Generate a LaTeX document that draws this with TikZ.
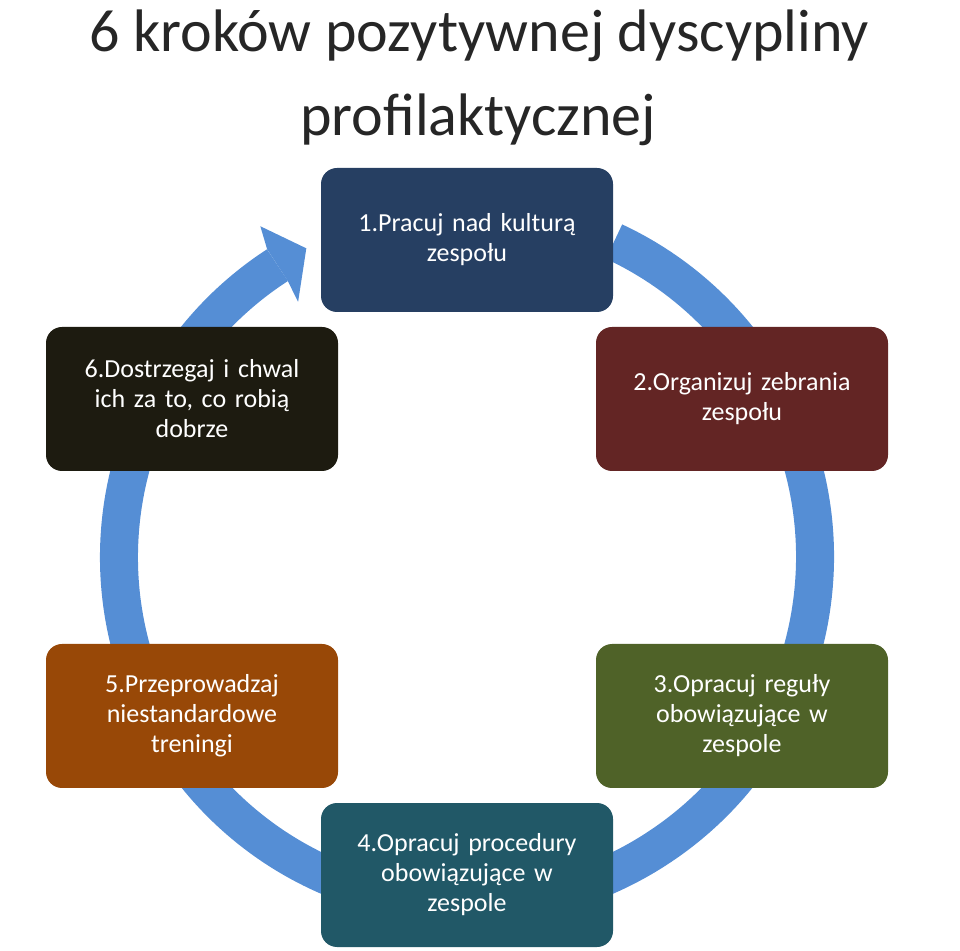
\documentclass[tikz,border=0pt]{standalone}
\usepackage{fontspec}
\setmainfont{Carlito}
\usetikzlibrary{calc}
\begin{document}
\begin{tikzpicture}[x=1pt,y=1pt,
  stepbox/.style={rounded corners=16pt,minimum width=292pt,minimum height=144pt,
    text width=270pt,align=center,text=white,inner sep=0pt,
    font=\fontsize{26}{30}\selectfont},
  ttl/.style={font=\fontsize{60}{66}\selectfont,text=black!85,inner sep=0pt}]
\definecolor{ring}{HTML}{558ED5}
\definecolor{cA}{HTML}{263F62}
\definecolor{cB}{HTML}{632524}
\definecolor{cC}{HTML}{4F6228}
\definecolor{cD}{HTML}{215867}
\definecolor{cE}{HTML}{984807}
\definecolor{cF}{HTML}{1D1B10}
\useasboundingbox (0,0) rectangle (960,950);
\node[ttl] (t1) at (479,914) {6 kroków pozytywnej dyscypliny};
\node[ttl] (t2) at (478,830) {profilaktycznej};
\coordinate (c) at (467,393);
\draw[ring,line width=38pt] ($(c)+(123:348)$) arc[start angle=123,end angle=425,radius=348];
\fill[ring] ($(c)+(123:329)$) -- ($(c)+(123.5:306)$) -- ($(c)+(117.5:348)$) -- ($(c)+(122:390)$) -- ($(c)+(123:367)$) -- cycle;
\node[stepbox,fill=cA] (n1) at (467,710) {1.Pracuj nad kulturą\\zespołu};
\node[stepbox,fill=cB] (n2) at (742,551) {2.Organizuj zebrania\\zespołu};
\node[stepbox,fill=cC] (n3) at (742,234) {3.Opracuj reguły\\obowiązujące w\\zespole};
\node[stepbox,fill=cD] (n4) at (467,75) {4.Opracuj procedury\\obowiązujące w\\zespole};
\node[stepbox,fill=cE] (n5) at (192,234) {5.Przeprowadzaj\\niestandardowe\\treningi};
\node[stepbox,fill=cF] (n6) at (192,551) {6.Dostrzegaj i chwal\\ich za to, co robią\\dobrze};
\end{tikzpicture}
\end{document}
